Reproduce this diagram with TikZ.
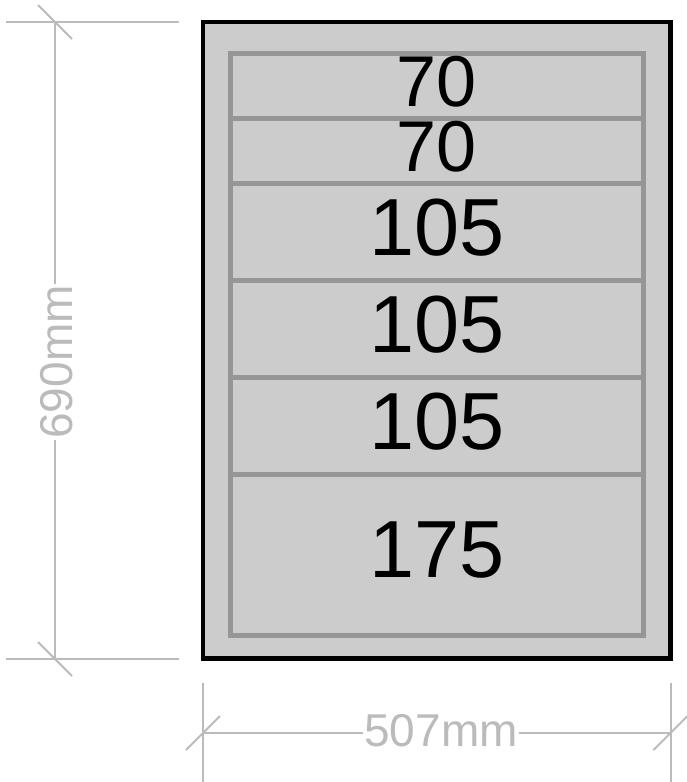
\documentclass[tikz,border=0pt]{standalone}
\usepackage{fontspec}
\setmainfont{Liberation Sans}
\usetikzlibrary{positioning}
\definecolor{dimgray}{HTML}{BBBBBB}
\definecolor{cabgray}{HTML}{CCCCCC}
\definecolor{edgegray}{HTML}{969696}

\begin{document}
\begin{tikzpicture}[x=1pt,y=-1pt,
  dimline/.style={draw=dimgray,line width=2pt},
  dimtext/.style={text=dimgray,fill=white,inner sep=1pt,
    font=\fontsize{46}{46}\selectfont},
  drawer/.style={draw=edgegray,line width=5pt},
  drawernum/.style={inner sep=0pt}]
  \useasboundingbox (0,0) rectangle (686,782);

  % cabinet
  \coordinate (tl) at (203,22);
  \coordinate (br) at (670.5,658.5);
  \draw[fill=cabgray,line width=4.5pt] (tl) rectangle (br);

  % drawers
  \foreach \top/\bot/\lbl/\sz [count=\i] in {53/118/70/72,118/183/70/72,
      183/280/105/81,280/377/105/81,377/474/105/81,474/635/175/81} {
    \draw[drawer] (230,\top) rectangle (643,\bot);
    \node[drawernum,font=\fontsize{\sz}{\sz}\selectfont] (n\i)
      at (437,{(\top+\bot)/2-4}) {\lbl};
  }

  % height dimension
  \coordinate (ht) at (55,22);
  \coordinate (hb) at (55,659);
  \draw[dimline] (6,22) -- (179,22);
  \draw[dimline] (6,659) -- (179,659);
  \draw[dimline] (ht) -- (hb);
  \draw[dimline] ([shift={(-17,-17)}]ht) -- ([shift={(17,17)}]ht);
  \draw[dimline] ([shift={(-17,-17)}]hb) -- ([shift={(17,17)}]hb);
  \node[dimtext,rotate=90] (hlbl) at (57,362) {690mm};

  % width dimension
  \coordinate (wl) at (203,733);
  \coordinate (wr) at (670.5,733);
  \draw[dimline] (203,683) -- (203,782);
  \draw[dimline] (670.5,683) -- (670.5,782);
  \draw[dimline] (wl) -- (wr);
  \draw[dimline] ([shift={(-17,17)}]wl) -- ([shift={(17,-17)}]wl);
  \draw[dimline] ([shift={(-17,17)}]wr) -- ([shift={(17,-17)}]wr);
  \node[dimtext] (wlbl) at (441,731) {507mm};
\end{tikzpicture}
\end{document}
